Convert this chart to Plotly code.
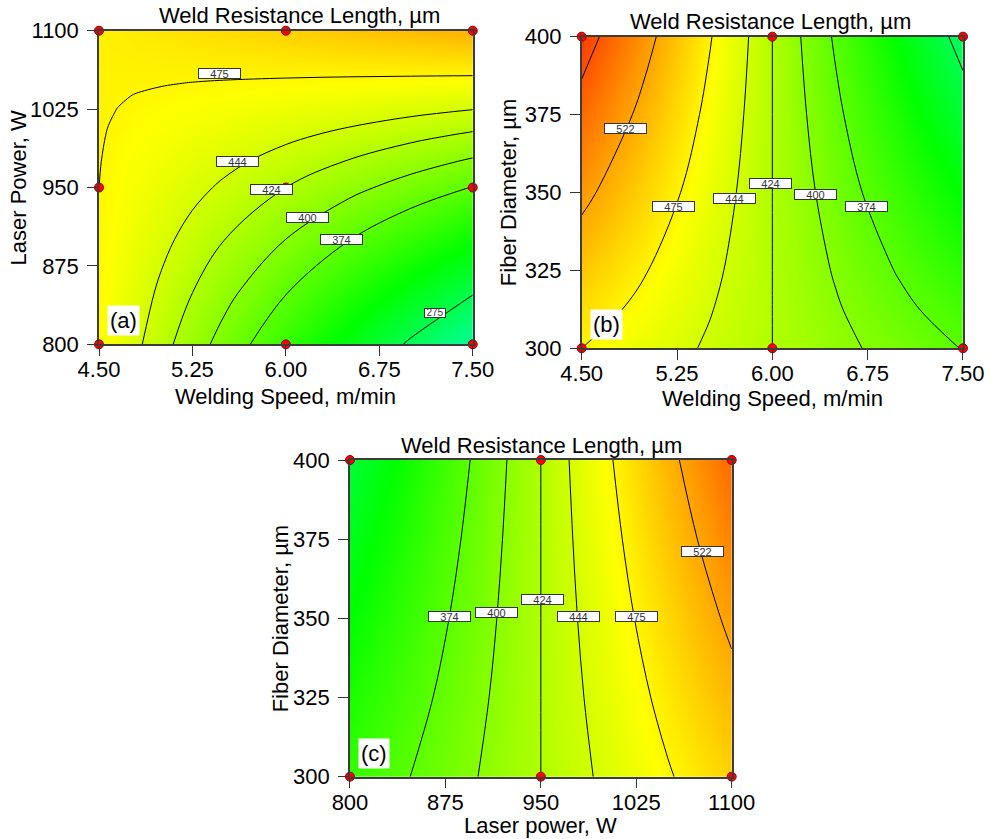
import plotly.graph_objects as go

FONT = "Arial, Liberation Sans, sans-serif"

# Weld resistance length (µm) response grids ---------------------------------
# (a) welding speed x laser power, fiber diameter held at 300 µm
speed_a = [4.5, 4.575, 4.65, 4.8, 5.0, 5.25, 5.5, 6.0, 6.5, 7.0, 7.5]
power_a = [800, 850, 900, 950, 975, 1000, 1025, 1037.5, 1050, 1062.5, 1075, 1100]
wrl_a = [
    [472.0, 466.0, 459.9, 447.8, 431.7, 411.5, 391.3, 351.0, 310.7, 270.3, 230.0],
    [473.0, 468.1, 463.2, 453.5, 440.4, 424.2, 407.9, 375.3, 342.8, 310.2, 277.7],
    [474.0, 470.3, 466.6, 459.1, 449.2, 436.8, 424.4, 399.7, 374.9, 350.1, 325.3],
    [475.0, 472.5, 469.9, 464.8, 458.0, 449.5, 441.0, 424.0, 407.0, 390.0, 373.0],
    [475.5, 473.5, 471.6, 467.6, 462.4, 455.8, 449.3, 436.2, 423.1, 409.9, 396.8],
    [476.0, 474.6, 473.2, 470.5, 466.8, 462.2, 457.6, 448.3, 439.1, 429.9, 420.7],
    [476.5, 475.7, 474.9, 473.3, 471.2, 468.5, 465.8, 460.5, 455.2, 449.8, 444.5],
    [476.8, 476.2, 475.7, 474.7, 473.4, 471.7, 470.0, 466.6, 463.2, 459.8, 456.4],
    [477.0, 476.8, 476.6, 476.1, 475.6, 474.8, 474.1, 472.7, 471.2, 469.8, 468.3],
    [477.3, 477.3, 477.4, 477.6, 477.8, 478.0, 478.3, 478.8, 479.3, 479.8, 480.3],
    [477.5, 477.9, 478.2, 479.0, 479.9, 481.2, 482.4, 484.8, 487.3, 489.7, 492.2],
    [478.0, 479.0, 479.9, 481.8, 484.3, 487.5, 490.7, 497.0, 503.3, 509.7, 516.0],
]

# (b) welding speed x fiber diameter, laser power held at 950 W
speed_b = [4.5, 5.0, 5.5, 6.0, 6.5, 7.0, 7.5]
fiber_b = [300, 312.5, 325, 350, 375, 400]
wrl_b = [
    [475.0, 458.0, 441.0, 424.0, 407.0, 390.0, 373.0],
    [488.8, 467.2, 445.6, 424.0, 402.4, 380.8, 359.3],
    [502.5, 476.3, 450.2, 424.0, 397.8, 371.7, 345.5],
    [530.0, 494.7, 459.3, 424.0, 388.7, 353.3, 318.0],
    [557.5, 513.0, 468.5, 424.0, 379.5, 335.0, 290.5],
    [585.0, 531.3, 477.7, 424.0, 370.3, 316.7, 263.0],
]

# (c) laser power x fiber diameter, welding speed held at 6.00 m/min
power_c = [800, 850, 900, 950, 1000, 1050, 1100]
fiber_c = [300, 325, 350, 375, 400]
wrl_c = [
    [351.0, 375.3, 399.7, 424.0, 448.3, 472.7, 497.0],
    [335.5, 365.0, 394.5, 424.0, 453.5, 483.0, 512.5],
    [320.0, 354.7, 389.3, 424.0, 458.7, 493.3, 528.0],
    [304.5, 344.3, 384.2, 424.0, 463.8, 503.7, 543.5],
    [289.0, 334.0, 379.0, 424.0, 469.0, 514.0, 559.0],
]

contour_levels = [275, 374, 400, 424, 444, 475, 522, 570]

# labelled contour values and where their tags sit
labels_a = [475, 444, 424, 400, 374, 275]
label_pos_a = [(5.471, 1058.8), (5.609, 974.7), (5.887, 948.3),
               (6.170, 921.6), (6.445, 900.7), (7.193, 829.9)]
labels_b = [522, 475, 444, 424, 400, 374]
label_pos_b = [(4.841, 370.5), (5.224, 345.6), (5.700, 348.0),
               (5.988, 353.0), (6.342, 349.4), (6.738, 345.6)]
labels_c = [374, 400, 424, 444, 475, 522]
label_pos_c = [(878.1, 350.7), (915.5, 351.9), (951.0, 355.8),
               (979.6, 350.7), (1024.9, 350.7), (1077.1, 371.0)]

# design points shown on each slice
design_a = ([4.5, 6.0, 7.5, 4.5, 6.0, 7.5, 4.5, 6.0, 7.5],
            [800, 800, 800, 950, 950, 950, 1100, 1100, 1100])
design_b = ([4.5, 6.0, 7.5, 4.5, 6.0, 7.5], [300, 300, 300, 400, 400, 400])
design_c = ([800, 950, 1100, 800, 950, 1100], [300, 300, 300, 400, 400, 400])

COLORSCALE = [[0.0, "#0000ff"], [0.25, "#00ffff"], [0.5, "#00ff00"],
              [0.75, "#ffff00"], [1.0, "#ff0000"]]
ZMIN, ZMAX = 20, 620

panels = [
    dict(x=speed_a, y=power_a, z=wrl_a, xa="x", ya="y", labels=labels_a,
         pos=label_pos_a, design=design_a, letter="(a)",
         xtitle="Welding Speed, m/min", ytitle="Laser Power, W",
         title_x=0.537, xt_shift=-52, yt_shift=-80),
    dict(x=speed_b, y=fiber_b, z=wrl_b, xa="x2", ya="y2", labels=labels_b,
         pos=label_pos_b, design=design_b, letter="(b)",
         xtitle="Welding Speed, m/min", ytitle="Fiber Diameter, µm",
         title_x=0.494, xt_shift=-50, yt_shift=-73),
    dict(x=power_c, y=fiber_c, z=wrl_c, xa="x3", ya="y3", labels=labels_c,
         pos=label_pos_c, design=design_c, letter="(c)",
         xtitle="Laser power, W", ytitle="Fiber Diameter, µm",
         title_x=0.503, xt_shift=-49, yt_shift=-70),
]

fig = go.Figure()
annotations = []

for pnl in panels:
    fig.add_trace(go.Heatmap(
        x=pnl["x"], y=pnl["y"], z=pnl["z"], zsmooth="best",
        colorscale=COLORSCALE, zmin=ZMIN, zmax=ZMAX, showscale=False,
        hoverinfo="skip", xaxis=pnl["xa"], yaxis=pnl["ya"]))
    for lvl in contour_levels:
        fig.add_trace(go.Contour(
            x=pnl["x"], y=pnl["y"], z=pnl["z"], autocontour=False,
            contours=dict(start=lvl, end=lvl, size=1, coloring="none"),
            line=dict(color="black", width=1, smoothing=1.0),
            showscale=False, hoverinfo="skip",
            xaxis=pnl["xa"], yaxis=pnl["ya"]))
    fig.add_trace(go.Scatter(
        x=pnl["design"][0], y=pnl["design"][1], mode="markers",
        marker=dict(color="#ff0000", size=9,
                    line=dict(color="#8b0000", width=1)),
        cliponaxis=False, hoverinfo="skip", showlegend=False,
        xaxis=pnl["xa"], yaxis=pnl["ya"]))

    xdom = pnl["xa"] + " domain"
    ydom = pnl["ya"] + " domain"
    # contour value tags
    for val, (lx, ly) in zip(pnl["labels"], pnl["pos"]):
        narrow = val < 300
        annotations.append(dict(
            x=lx, y=ly, xref=pnl["xa"], yref=pnl["ya"], text=str(val),
            showarrow=False, xanchor="center", yanchor="middle",
            font=dict(family=FONT, size=11 if not narrow else 10,
                      color="#333333"),
            bgcolor="white", bordercolor="#333333", borderwidth=1,
            borderpad=0, width=20 if narrow else 41,
            height=7.5 if narrow else 9))
    # panel title
    annotations.append(dict(
        x=pnl["title_x"], y=1, xref=xdom, yref=ydom, yshift=15,
        text="Weld Resistance Length, µm", showarrow=False,
        xanchor="center", yanchor="middle",
        font=dict(family=FONT, size=22, color="black")))
    # axis titles
    annotations.append(dict(
        x=0.5, y=0, xref=xdom, yref=ydom, yshift=pnl["xt_shift"],
        text=pnl["xtitle"], showarrow=False, xanchor="center",
        yanchor="middle", font=dict(family=FONT, size=22, color="black")))
    annotations.append(dict(
        x=0, y=0.5, xref=xdom, yref=ydom, xshift=pnl["yt_shift"],
        text=pnl["ytitle"], showarrow=False, textangle=-90,
        xanchor="center", yanchor="middle",
        font=dict(family=FONT, size=22, color="black")))
    # panel letter
    annotations.append(dict(
        x=0, y=0, xref=xdom, yref=ydom, xshift=8, yshift=8,
        text=pnl["letter"], showarrow=False, xanchor="left",
        yanchor="bottom", bgcolor="white", borderpad=2,
        font=dict(family=FONT, size=22, color="black")))


def axis(domain, rng, tickvals, ticktext, anchor, standoff):
    return dict(
        domain=domain, range=rng, tickvals=tickvals, ticktext=ticktext,
        anchor=anchor, ticks="outside", ticklen=10, tickwidth=1,
        tickcolor="#333333", showline=True, mirror=True,
        linecolor="#3c3c3c", linewidth=1.5, showgrid=False,
        zeroline=False, automargin=False, ticklabelstandoff=standoff,
        tickfont=dict(family=FONT, size=22, color="black"),
        fixedrange=True)


speed_ticks = [4.5, 5.25, 6.0, 6.75, 7.5]
speed_text = ["4.50", "5.25", "6.00", "6.75", "7.50"]
power_ticks = [800, 875, 950, 1025, 1100]
fiber_ticks = [300, 325, 350, 375, 400]
power_text = [str(v) for v in power_ticks]
fiber_text = [str(v) for v in fiber_ticks]

fig.update_layout(
    template="none",
    width=994, height=839,
    margin=dict(l=0, r=0, t=0, b=0, pad=0, autoexpand=False),
    paper_bgcolor="white", plot_bgcolor="white", showlegend=False,
    xaxis=axis([0.0996, 0.4756], [4.5, 7.5], speed_ticks, speed_text, "y", -5),
    yaxis=axis([0.5896, 0.9634], [800, 1100], power_ticks, power_text, "x", 4),
    xaxis2=axis([0.5852, 0.9688], [4.5, 7.5], speed_ticks, speed_text, "y2", -5),
    yaxis2=axis([0.5849, 0.9563], [300, 400], fiber_ticks, fiber_text, "x2", 4),
    xaxis3=axis([0.3521, 0.7361], [800, 1100], power_ticks, power_text, "y3", -5),
    yaxis3=axis([0.0743, 0.4517], [300, 400], fiber_ticks, fiber_text, "x3", 4),
    annotations=annotations,
)

fig.write_html("out.html")
